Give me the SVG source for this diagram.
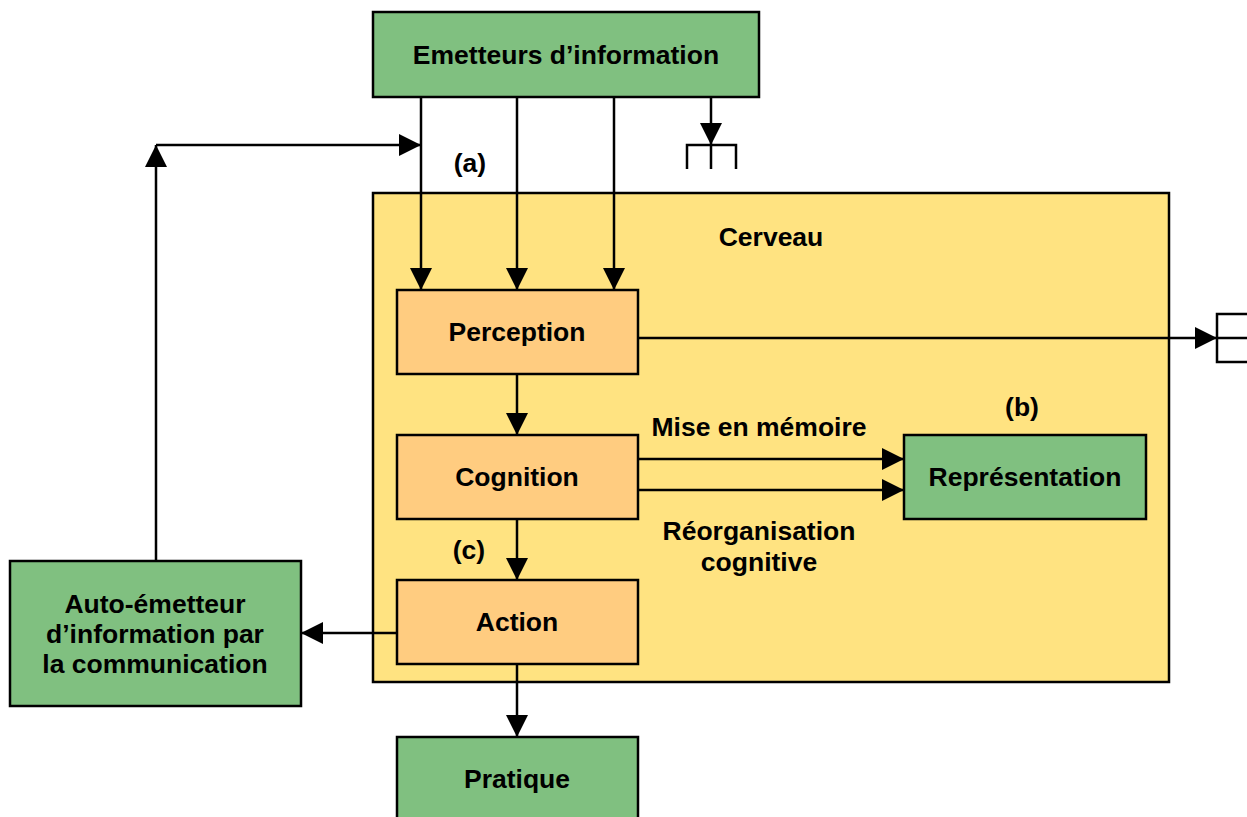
<svg xmlns="http://www.w3.org/2000/svg" width="1247" height="817" viewBox="0 0 1247 817">
<style>
.t{font-family:"Liberation Sans",Arial,sans-serif;font-weight:bold;font-size:26.5px;fill:#000;text-anchor:middle}
.g{fill:#80C080;stroke:#000;stroke-width:2.5}
.o{fill:#FFCC80;stroke:#000;stroke-width:2.5}
.y{fill:#FFE381;stroke:#000;stroke-width:2.5}
.c{fill:none;stroke:#000;stroke-width:2.5}
</style>
<defs>
<marker id="ah" markerUnits="userSpaceOnUse" markerWidth="22" markerHeight="22" refX="22" refY="11" orient="auto" viewBox="0 0 22 22">
<path d="M0,0 L22,11 L0,22 z" fill="#000"/>
</marker>
</defs>
<g id="cerveau">
<rect class="y" x="373" y="193" width="796" height="489"/>
<text class="t" x="771" y="246">Cerveau</text>
</g>
<g id="emetteurs">
<rect class="g" x="373" y="12" width="386" height="85"/>
<text class="t" x="566" y="64">Emetteurs d’information</text>
</g>
<g id="perception">
<rect class="o" x="397" y="290" width="241" height="84"/>
<text class="t" x="517" y="341">Perception</text>
</g>
<g id="cognition">
<rect class="o" x="397" y="435" width="241" height="84"/>
<text class="t" x="517" y="486">Cognition</text>
</g>
<g id="action">
<rect class="o" x="397" y="580" width="241" height="84"/>
<text class="t" x="517" y="631">Action</text>
</g>
<g id="representation">
<rect class="g" x="904" y="435" width="242" height="84"/>
<text class="t" x="1025" y="486">Représentation</text>
</g>
<g id="autoemetteur">
<rect class="g" x="10" y="561" width="291" height="145"/>
<text class="t" x="155" y="613">Auto-émetteur</text>
<text class="t" x="155" y="643">d’information par</text>
<text class="t" x="155" y="673">la communication</text>
</g>
<g id="pratique">
<rect class="g" x="397" y="737" width="241" height="90"/>
<text class="t" x="517" y="788">Pratique</text>
</g>
<g id="connectors">
<line class="c" x1="421" y1="97" x2="421" y2="290" marker-end="url(#ah)"/>
<line class="c" x1="517" y1="97" x2="517" y2="290" marker-end="url(#ah)"/>
<line class="c" x1="614" y1="97" x2="614" y2="290" marker-end="url(#ah)"/>
<line class="c" x1="711" y1="97" x2="711" y2="145" marker-end="url(#ah)"/>
<path class="c" d="M687,169 V145 H736 V169 M711,145 V169"/>
<line class="c" x1="156" y1="561" x2="156" y2="145" marker-end="url(#ah)"/>
<line class="c" x1="156" y1="145" x2="421" y2="145" marker-end="url(#ah)"/>
<line class="c" x1="638" y1="338" x2="1217" y2="338" marker-end="url(#ah)"/>
<path class="c" d="M1248,314 H1217 V362 H1248 M1217,338 H1248"/>
<line class="c" x1="517" y1="374" x2="517" y2="435" marker-end="url(#ah)"/>
<line class="c" x1="517" y1="519" x2="517" y2="580" marker-end="url(#ah)"/>
<line class="c" x1="517" y1="664" x2="517" y2="737" marker-end="url(#ah)"/>
<line class="c" x1="397" y1="633" x2="301" y2="633" marker-end="url(#ah)"/>
<line class="c" x1="638" y1="459" x2="904" y2="459" marker-end="url(#ah)"/>
<line class="c" x1="638" y1="490" x2="904" y2="490" marker-end="url(#ah)"/>
<text class="t" x="470" y="172">(a)</text>
<text class="t" x="1022" y="416">(b)</text>
<text class="t" x="469" y="559">(c)</text>
<text class="t" x="759" y="436">Mise en mémoire</text>
<text class="t" x="759" y="540">Réorganisation</text>
<text class="t" x="759" y="571">cognitive</text>
</g>
</svg>
